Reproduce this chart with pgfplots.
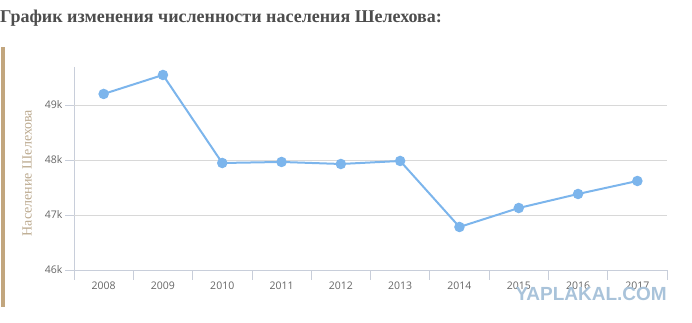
\documentclass[border=0pt]{standalone}
\usepackage{fontspec}
\setmainfont{Liberation Serif}
\newfontfamily\tickfont{Open Sans}
\newfontfamily\wmfont{Liberation Sans}
\usepackage{pgfplots}
\pgfplotsset{compat=1.18}
\definecolor{series}{HTML}{7CB5EC}
\definecolor{gridc}{HTML}{D8D8D8}
\definecolor{axc}{HTML}{C8CEDA}
\definecolor{labc}{HTML}{666666}
\definecolor{tan}{HTML}{C2A67E}
\definecolor{ylab}{HTML}{BBA98E}
\definecolor{titlec}{HTML}{4D4D4D}
\definecolor{wm}{HTML}{A9C3DA}
\begin{document}
\begin{tikzpicture}[x=1pt,y=1pt]
\useasboundingbox (0,0) rectangle (692,-323);
\fill[tan] (1,-47) rectangle (4.5,-307);
\node[anchor=base west, inner sep=0, text=titlec, font=\fontsize{18}{21}\selectfont\bfseries] at (0,-23) {График изменения численности населения Шелехова:};
\node[rotate=90, text=ylab, font=\fontsize{14}{16}\selectfont] at (27,-173) {Население Шелехова};
% axis decoration lines
\draw[axc, line width=0.8pt] (74,-67) -- (74,-280);
\foreach \i in {1,...,10} {\draw[axc, line width=0.8pt] ({74+\i*59.3},-270) -- ({74+\i*59.3},-280);}
\foreach \yy in {105,160,215,270} {\draw[axc, line width=0.8pt] (74,-\yy) -- (65,-\yy);}
\begin{axis}[
  at={(74pt,-270pt)}, anchor=south west,
  scale only axis, width=593pt, height=203pt,
  xmin=-0.5, xmax=9.5, ymin=46000, ymax=49690,
  axis line style={draw=none},
  scaled y ticks=false,
  ytick={46000,47000,48000,49000},
  yticklabels={46k,47k,48k,49k},
  ymajorgrids, major grid style={gridc, line width=0.8pt},
  xtick={0,...,9},
  xticklabels={2008,2009,2010,2011,2012,2013,2014,2015,2016,2017},
  major tick length=0pt,
  xtick pos=bottom, ytick pos=left,
  tick label style={text=labc, font=\tickfont\fontsize{10.5}{12}\selectfont},
  yticklabel style={xshift=-8pt},
  xticklabel style={yshift=-8pt},
  clip=false,
]
\addplot[series, line width=2pt, mark=*, mark size=4.2pt, mark options={fill=series, draw=none}]
 coordinates {(0,49200) (1,49545) (2,47945) (3,47964) (4,47927) (5,47982) (6,46782) (7,47127) (8,47382) (9,47618)};
\end{axis}
\draw[axc, line width=0.8pt] (74,-270) -- (667,-270);
\node[anchor=base east, inner sep=0, text=wm, font=\wmfont\fontsize{19}{22}\selectfont\bfseries] at (667,-300) {YAPLAKAL.COM};
\end{tikzpicture}
\end{document}
